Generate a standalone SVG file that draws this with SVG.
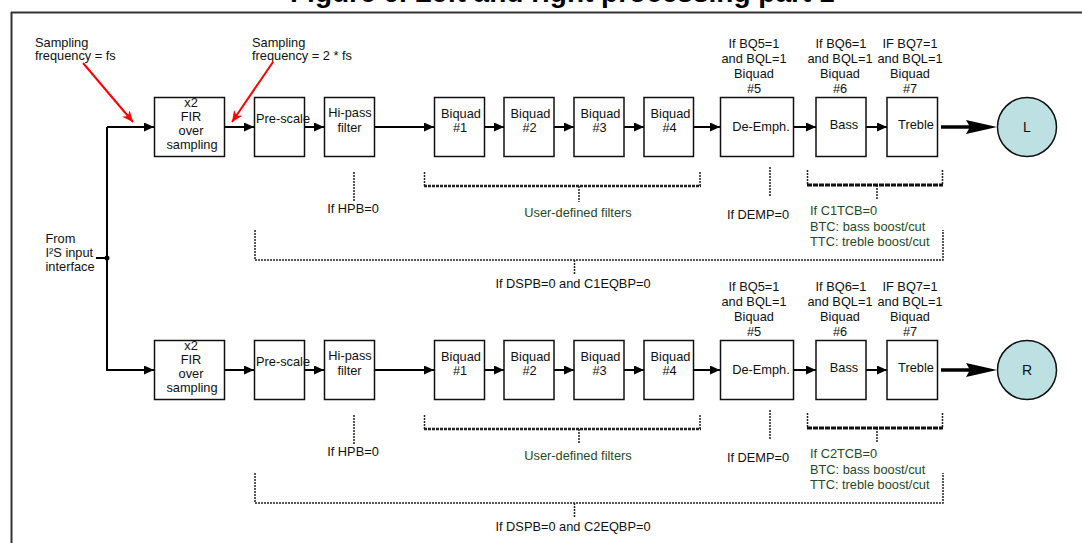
<svg xmlns="http://www.w3.org/2000/svg" width="1082" height="543" viewBox="0 0 1082 543">
<defs>
<style>
text{font-family:"Liberation Sans",Arial,sans-serif;font-size:12.8px;fill:#111}
.c{text-anchor:middle}
.g{fill:#1f4a1f}
.box{fill:#fff;stroke:#111;stroke-width:1.5}
.ln{fill:none;stroke:#000;stroke-width:2}
.red{fill:none;stroke:#f00;stroke-width:2}
.dot{fill:none;stroke:#222;stroke-width:1.5;stroke-dasharray:2 1}
.br{fill:none;stroke:#222;stroke-width:2.5;stroke-dasharray:3 1}
.brt{fill:none;stroke:#111;stroke-width:3;stroke-dasharray:5 1}
.out{fill:#bde0e3;stroke:#111;stroke-width:1.5}
.title{font-weight:bold;font-size:28px;fill:#000}
</style>
<marker id="ah" markerUnits="userSpaceOnUse" markerWidth="11" markerHeight="10" refX="10" refY="4.5" orient="auto">
<path d="M0,0 L10,4.5 L0,9 z" fill="#000"/>
</marker>
<marker id="ahr" markerUnits="userSpaceOnUse" markerWidth="12" markerHeight="12" refX="11" refY="5" orient="auto">
<path d="M0,0 L11,5 L0,10 L3,5 z" fill="#f00"/>
</marker>
</defs>
<rect width="1082" height="543" fill="#fff"/>
<text class="title" x="290" y="2">Figure 6. Left and right processing part 1</text>
<path d="M11,12.5 H1082 M11.5,12 V543" fill="none" stroke="#333" stroke-width="2"/>

<g id="labels-input">
<text x="35" y="47">Sampling</text>
<text x="35" y="60">frequency = fs</text>
<text x="252" y="47">Sampling</text>
<text x="252" y="60">frequency = 2 * fs</text>
<text x="45.5" y="243">From</text>
<text x="45.5" y="257">I²S input</text>
<text x="45.5" y="271">interface</text>
</g>

<g id="connectors">
<path class="red" d="M83,63 L133,122" marker-end="url(#ahr)"/>
<path class="red" d="M273,62 L232,122" marker-end="url(#ahr)"/>
<path class="ln" d="M96,258 H107"/>
<circle cx="107" cy="258" r="2.5" fill="#000"/>
<path class="ln" d="M107,127 V370 H154" marker-end="url(#ah)"/>
<path class="ln" d="M107,127 H154" marker-end="url(#ah)"/>
<path class="ln" d="M224,127 H254" marker-end="url(#ah)"/>
<path class="ln" d="M304,127 H324" marker-end="url(#ah)"/>
<path class="ln" d="M374,127 H434" marker-end="url(#ah)"/>
<path class="ln" d="M484,127 H504" marker-end="url(#ah)"/>
<path class="ln" d="M554,127 H574" marker-end="url(#ah)"/>
<path class="ln" d="M624,127 H644" marker-end="url(#ah)"/>
<path class="ln" d="M693,127 H720" marker-end="url(#ah)"/>
<path class="ln" d="M793,127 H816" marker-end="url(#ah)"/>
<path class="ln" d="M866,127 H887" marker-end="url(#ah)"/>
<path d="M941,127 H972" stroke="#000" stroke-width="3.5"/>
<path d="M966,120 L997,127 L966,134 L970,127 z" fill="#000"/>
<path class="ln" d="M224,370 H254" marker-end="url(#ah)"/>
<path class="ln" d="M304,370 H324" marker-end="url(#ah)"/>
<path class="ln" d="M374,370 H434" marker-end="url(#ah)"/>
<path class="ln" d="M484,370 H504" marker-end="url(#ah)"/>
<path class="ln" d="M554,370 H574" marker-end="url(#ah)"/>
<path class="ln" d="M624,370 H644" marker-end="url(#ah)"/>
<path class="ln" d="M693,370 H720" marker-end="url(#ah)"/>
<path class="ln" d="M793,370 H816" marker-end="url(#ah)"/>
<path class="ln" d="M866,370 H887" marker-end="url(#ah)"/>
<path d="M941,370 H972" stroke="#000" stroke-width="3.5"/>
<path d="M966,363 L997,370 L966,377 L970,370 z" fill="#000"/>

<path class="dot" d="M354,172 V202"/>
<path class="dot" d="M424.5,172 V186 M700,172 V186 M579,186 V202"/>
<path class="br" d="M424,186 H701"/>
<path class="dot" d="M770,167 V197"/>
<path class="dot" d="M807.5,170 V185 M942.5,170 V185 M877,185 V200"/>
<path class="brt" d="M807,185 H943"/>
<path class="dot" d="M255,230 V260 H943 V230 M574.5,260 V275"/>
<path class="dot" d="M354,415 V445"/>
<path class="dot" d="M424.5,415 V429 M700,415 V429 M579,429 V444"/>
<path class="br" d="M424,429 H701"/>
<path class="dot" d="M770,410 V440"/>
<path class="dot" d="M807.5,413 V428 M942.5,413 V428 M877,428 V443"/>
<path class="brt" d="M807,428 H943"/>
<path class="dot" d="M255,473 V503 H943 V473 M574.5,503 V518"/>
</g>

<g id="L-chain">
<g id="fir-l"><rect class="box" x="154.5" y="97.5" width="70" height="59"/>
<text class="c" x="191" y="107">x2</text><text class="c" x="191" y="121">FIR</text><text class="c" x="191" y="135">over</text><text class="c" x="192" y="149">sampling</text></g>
<g id="prescale-l"><rect class="box" x="254.5" y="97.5" width="50" height="59"/><text x="256" y="123">Pre-scale</text></g>
<g id="hipass-l"><rect class="box" x="324.5" y="97.5" width="50" height="59"/><text class="c" x="350" y="117">Hi-pass</text><text class="c" x="349.5" y="132">filter</text></g>
<g id="bq1-l"><rect class="box" x="434.5" y="97.5" width="50" height="59"/><text class="c" x="461" y="118">Biquad</text><text class="c" x="460" y="132">#1</text></g>
<g id="bq2-l"><rect class="box" x="504" y="97.5" width="50" height="59"/><text class="c" x="530.5" y="118">Biquad</text><text class="c" x="529.5" y="132">#2</text></g>
<g id="bq3-l"><rect class="box" x="574" y="97.5" width="50" height="59"/><text class="c" x="600.5" y="118">Biquad</text><text class="c" x="599.5" y="132">#3</text></g>
<g id="bq4-l"><rect class="box" x="644" y="97.5" width="49.5" height="59"/><text class="c" x="670.5" y="118">Biquad</text><text class="c" x="669.5" y="132">#4</text></g>
<g id="demph-l"><rect class="box" x="720.5" y="97.5" width="73" height="59"/><text class="c" x="761" y="131">De-Emph.</text></g>
<g id="bass-l"><rect class="box" x="816" y="97.5" width="50" height="59"/><text class="c" x="844" y="129">Bass</text></g>
<g id="treble-l"><rect class="box" x="887" y="97.5" width="50.5" height="59"/><text class="c" x="916" y="129">Treble</text></g>
<g id="out-l"><circle class="out" cx="1027" cy="127" r="29.5"/><text class="c" x="1027" y="132" style="font-size:14px">L</text></g>
</g>

<g id="L-annotations">
<text class="c" x="754" y="48">If BQ5=1</text><text class="c" x="754" y="63">and BQL=1</text><text class="c" x="754" y="78">Biquad</text><text class="c" x="754" y="93">#5</text>
<text class="c" x="841" y="48">If BQ6=1</text><text class="c" x="840" y="63">and BQL=1</text><text class="c" x="840" y="78">Biquad</text><text class="c" x="840" y="93">#6</text>
<text class="c" x="910" y="48">IF BQ7=1</text><text class="c" x="910" y="63">and BQL=1</text><text class="c" x="910" y="78">Biquad</text><text class="c" x="910" y="93">#7</text>
<text class="c" x="353" y="213">If HPB=0</text>
<text class="c g" x="578" y="217">User-defined filters</text>
<text class="c" x="758" y="219">If DEMP=0</text>
<text class="g" x="810" y="215">If C1TCB=0</text>
<text class="g" x="810" y="231">BTC: bass boost/cut</text>
<text class="g" x="810" y="246">TTC: treble boost/cut</text>
<text class="c" x="573" y="288">If DSPB=0 and C1EQBP=0</text>
</g>

<g id="R-chain">
<g id="fir-r"><rect class="box" x="154.5" y="340.5" width="70" height="59"/>
<text class="c" x="191" y="350">x2</text><text class="c" x="191" y="364">FIR</text><text class="c" x="191" y="378">over</text><text class="c" x="192" y="392">sampling</text></g>
<g id="prescale-r"><rect class="box" x="254.5" y="340.5" width="50" height="59"/><text x="256" y="366">Pre-scale</text></g>
<g id="hipass-r"><rect class="box" x="324.5" y="340.5" width="50" height="59"/><text class="c" x="350" y="360">Hi-pass</text><text class="c" x="349.5" y="375">filter</text></g>
<g id="bq1-r"><rect class="box" x="434.5" y="340.5" width="50" height="59"/><text class="c" x="461" y="361">Biquad</text><text class="c" x="460" y="375">#1</text></g>
<g id="bq2-r"><rect class="box" x="504" y="340.5" width="50" height="59"/><text class="c" x="530.5" y="361">Biquad</text><text class="c" x="529.5" y="375">#2</text></g>
<g id="bq3-r"><rect class="box" x="574" y="340.5" width="50" height="59"/><text class="c" x="600.5" y="361">Biquad</text><text class="c" x="599.5" y="375">#3</text></g>
<g id="bq4-r"><rect class="box" x="644" y="340.5" width="49.5" height="59"/><text class="c" x="670.5" y="361">Biquad</text><text class="c" x="669.5" y="375">#4</text></g>
<g id="demph-r"><rect class="box" x="720.5" y="340.5" width="73" height="59"/><text class="c" x="761" y="374">De-Emph.</text></g>
<g id="bass-r"><rect class="box" x="816" y="340.5" width="50" height="59"/><text class="c" x="844" y="372">Bass</text></g>
<g id="treble-r"><rect class="box" x="887" y="340.5" width="50.5" height="59"/><text class="c" x="916" y="372">Treble</text></g>
<g id="out-r"><circle class="out" cx="1027" cy="370" r="29.5"/><text class="c" x="1027" y="375" style="font-size:14px">R</text></g>
</g>

<g id="R-annotations">
<text class="c" x="754" y="291">If BQ5=1</text><text class="c" x="754" y="306">and BQL=1</text><text class="c" x="754" y="321">Biquad</text><text class="c" x="754" y="336">#5</text>
<text class="c" x="841" y="291">If BQ6=1</text><text class="c" x="840" y="306">and BQL=1</text><text class="c" x="840" y="321">Biquad</text><text class="c" x="840" y="336">#6</text>
<text class="c" x="910" y="291">IF BQ7=1</text><text class="c" x="910" y="306">and BQL=1</text><text class="c" x="910" y="321">Biquad</text><text class="c" x="910" y="336">#7</text>
<text class="c" x="353" y="456">If HPB=0</text>
<text class="c g" x="578" y="460">User-defined filters</text>
<text class="c" x="758" y="462">If DEMP=0</text>
<text class="g" x="810" y="458">If C2TCB=0</text>
<text class="g" x="810" y="474">BTC: bass boost/cut</text>
<text class="g" x="810" y="489">TTC: treble boost/cut</text>
<text class="c" x="573" y="531">If DSPB=0 and C2EQBP=0</text>
</g>
</svg>
